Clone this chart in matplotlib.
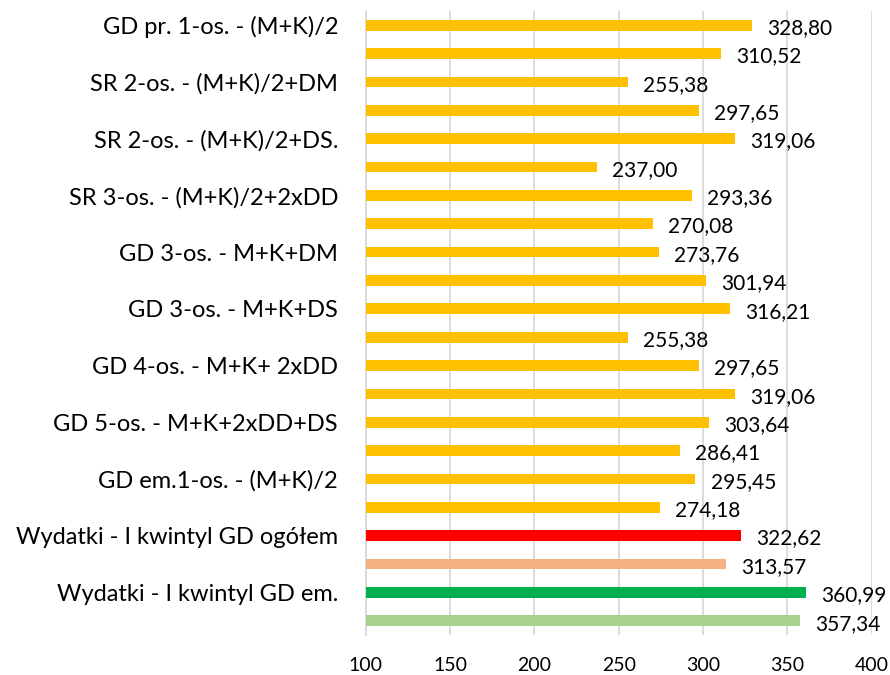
import matplotlib
matplotlib.use("Agg")
import matplotlib.pyplot as plt

categories = [
    "GD pr. 1-os. - (M+K)/2", "",
    "SR 2-os. - (M+K)/2+DM", "",
    "SR 2-os. - (M+K)/2+DS.", "",
    "SR 3-os. - (M+K)/2+2xDD", "",
    "GD 3-os. - M+K+DM", "",
    "GD 3-os. - M+K+DS", "",
    "GD 4-os. - M+K+ 2xDD", "",
    "GD 5-os. - M+K+2xDD+DS", "",
    "GD em.1-os. - (M+K)/2", "",
    "Wydatki - I kwintyl GD ogółem", "",
    "Wydatki - I kwintyl GD em.", "",
]
values = [328.80, 310.52, 255.38, 297.65, 319.06, 237.00, 293.36, 270.08,
          273.76, 301.94, 316.21, 255.38, 297.65, 319.06, 303.64, 286.41,
          295.45, 274.18, 322.62, 313.57, 360.99, 357.34]
colors = ["#FFC000"] * 18 + ["#FF0000", "#F4B183", "#00B050", "#A9D18E"]
xticks = [100, 150, 200, 250, 300, 350, 400]

plt.rcParams['font.family'] = ['Lato', 'DejaVu Sans']
fig = plt.figure(figsize=(8.9, 6.75), dpi=100)
ax = fig.add_axes([0.411, 0.0593, 0.5685, 0.9244])

y = list(range(len(values)))
ax.barh(y, [v - 100 for v in values], left=100, height=0.38, color=colors, zorder=3)
for yi, v in zip(y, values):
    ax.text(v + 9, yi + 0.1, f"{v:.2f}".replace(".", ","), va="center", ha="left",
            fontsize=15, color="#000000", zorder=4)

ax.set_ylim(len(values) - 0.5, -0.5)
ax.set_xlim(100, 400)
ax.set_xticks(xticks)
ax.set_xticklabels([str(t) for t in xticks], fontsize=14)
ax.set_yticks(y)
ax.set_yticklabels(categories, fontsize=17)
ax.tick_params(axis="x", length=0, pad=16)
ax.tick_params(axis="y", length=0, pad=20)
ax.grid(axis="x", color="#D9D9D9", linewidth=1.3, zorder=0)
for s in ["top", "right", "bottom"]:
    ax.spines[s].set_visible(False)
ax.spines["left"].set_color("#D9D9D9")
ax.spines["left"].set_linewidth(1.3)
ax.set_facecolor("white")

fig.savefig("out.png", dpi=100)
